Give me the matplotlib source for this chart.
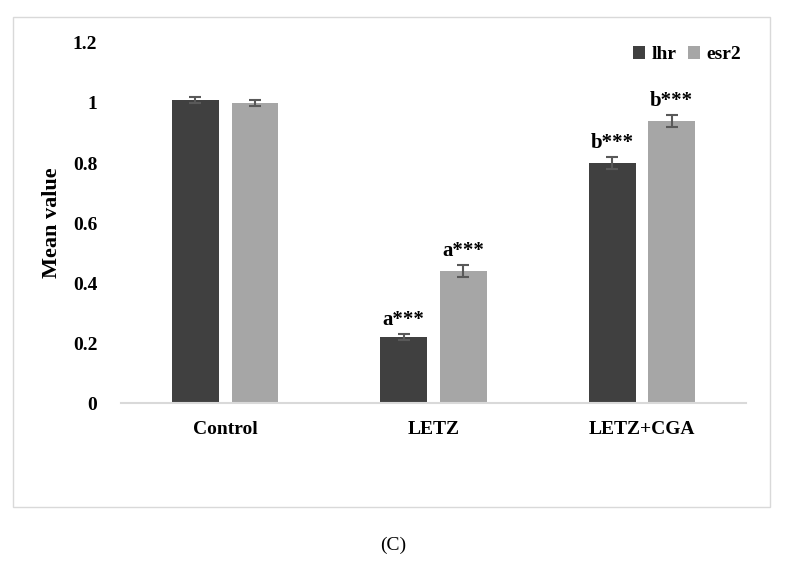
import numpy as np
import matplotlib.pyplot as plt
from matplotlib.patches import Rectangle

# data
groups = ['Control', 'LETZ', 'LETZ+CGA']
lhr = [1.01, 0.22, 0.80]
esr2 = [1.00, 0.44, 0.94]
lhr_err = [0.01, 0.01, 0.02]
esr2_err = [0.01, 0.02, 0.02]
lhr_marks = ['', 'a***', 'b***']
esr2_marks = ['', 'a***', 'b***']

plt.rcParams['font.family'] = ['Liberation Serif', 'DejaVu Serif']
plt.rcParams['font.weight'] = 'bold'

fig = plt.figure(figsize=(7.87, 5.65), dpi=100)
# outer chart frame
fig.patches.append(Rectangle((13 / 787, 1 - 507 / 565), 757 / 787, 490 / 565,
                             transform=fig.transFigure, fill=False,
                             edgecolor='#d9d9d9', linewidth=1.0))

ax = fig.add_axes([0.1537, 0.2867, 0.7943, 0.6372])
x = np.arange(len(groups))
w = 0.225
off = 0.143
ekw = dict(ecolor='#595959', elinewidth=1.5, capsize=4, capthick=1.5)
ax.bar(x - off, lhr, w, yerr=lhr_err, color='#404040', label='lhr', error_kw=ekw)
ax.bar(x + off, esr2, w, yerr=esr2_err, color='#a6a6a6', label='esr2', error_kw=ekw)

for i in range(len(groups)):
    if lhr_marks[i]:
        ax.text(x[i] - off, lhr[i] + lhr_err[i] + 0.012, lhr_marks[i],
                ha='center', va='bottom', fontsize=15, fontweight='bold')
    if esr2_marks[i]:
        ax.text(x[i] + off, esr2[i] + esr2_err[i] + 0.012, esr2_marks[i],
                ha='center', va='bottom', fontsize=15, fontweight='bold')

ax.set_xlim(-0.5, 2.5)
ax.set_ylim(0, 1.2)
ax.set_yticks([0, 0.2, 0.4, 0.6, 0.8, 1.0, 1.2])
ax.set_yticklabels(['0', '0.2', '0.4', '0.6', '0.8', '1', '1.2'])
ax.set_xticks(x)
ax.set_xticklabels(groups)
ax.tick_params(axis='both', length=0, labelsize=14)
ax.tick_params(axis='x', pad=13)
ax.tick_params(axis='y', pad=17)
for s in ['top', 'right', 'left']:
    ax.spines[s].set_visible(False)
ax.spines['bottom'].set_color('#d9d9d9')
ax.spines['bottom'].set_linewidth(1.5)
ax.set_ylabel('Mean value', fontsize=16, fontweight='bold', labelpad=8)

ax.legend(loc='upper right', bbox_to_anchor=(1.02, 1.04), ncol=2, frameon=False,
          fontsize=14, handlelength=0.65, handleheight=0.65, handletextpad=0.3,
          columnspacing=0.6)

fig.text(0.5, 1 - 545 / 565, '(C)', ha='center', va='center',
         fontsize=14, fontweight='normal')

fig.savefig('out.png', dpi=100)
